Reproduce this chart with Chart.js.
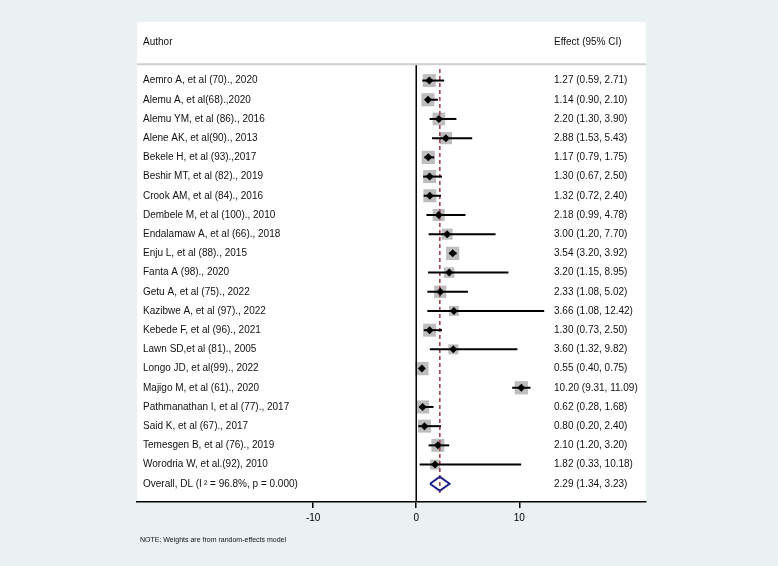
<!DOCTYPE html>
<html>
<head>
<meta charset="utf-8">
<script src="https://cdn.jsdelivr.net/npm/chart.js@4/dist/chart.umd.min.js"></script>
<style>
  html, body { margin: 0; padding: 0; background: #e9f1f3; }
  #wrap { width: 778px; height: 566px; }
</style>
</head>
<body>
<div id="wrap"><canvas id="forest" width="778" height="566"></canvas></div>
<script>
// Study data
const authors = [
    'Aemro A, et al (70)., 2020',
    'Alemu A, et al(68).,2020',
    'Alemu YM, et al (86)., 2016',
    'Alene AK, et al(90)., 2013',
    'Bekele H, et al (93).,2017',
    'Beshir MT, et al (82)., 2019',
    'Crook AM, et al (84)., 2016',
    'Dembele M, et al (100)., 2010',
    'Endalamaw A, et al (66)., 2018',
    'Enju L, et al (88)., 2015',
    'Fanta A (98)., 2020',
    'Getu A, et al (75)., 2022',
    'Kazibwe A, et al (97)., 2022',
    'Kebede F, et al (96)., 2021',
    'Lawn SD,et al (81)., 2005',
    'Longo JD, et al(99)., 2022',
    'Majigo M, et al (61)., 2020',
    'Pathmanathan I, et al (77)., 2017',
    'Said K, et al (67)., 2017',
    'Temesgen B, et al (76)., 2019',
    'Worodria W, et al.(92), 2010'
];
const effects = [1.27, 1.14, 2.20, 2.88, 1.17, 1.30, 1.32, 2.18, 3.00, 3.54, 3.20, 2.33, 3.66, 1.30, 3.60, 0.55, 10.20, 0.62, 0.80, 2.10, 1.82];
const lower   = [0.59, 0.90, 1.30, 1.53, 0.79, 0.67, 0.72, 0.99, 1.20, 3.20, 1.15, 1.08, 1.08, 0.73, 1.32, 0.40, 9.31, 0.28, 0.20, 1.20, 0.33];
const upper   = [2.71, 2.10, 3.90, 5.43, 1.75, 2.50, 2.40, 4.78, 7.70, 3.92, 8.95, 5.02, 12.42, 2.50, 9.82, 0.75, 11.09, 1.68, 2.40, 3.20, 10.18];
// approximate random-effects weights (%)
const weights = [5.0, 5.1, 4.8, 4.4, 5.2, 5.0, 5.0, 4.4, 3.6, 5.2, 3.3, 4.5, 2.9, 5.0, 3.0, 5.3, 5.2, 5.1, 5.0, 5.0, 2.9];

const overallLabel = 'Overall, DL (I\u2009\u00B2 = 96.8%, p = 0.000)';
const overallEst = 2.29;
const overallLow = 1.34;
const overallHigh = 3.23;

const xTicks = [-10, 0, 10];
const headerLeft = 'Author';
const headerRight = 'Effect (95% CI)';
const noteText = 'NOTE: Weights are from random-effects model';

// layout helpers
const X_MIN = -27.1, X_MAX = 22.3;
const Y_MIN = -3.05, Y_MAX = 21.95;
const overallRow = authors.length;
const sepRow = -0.85;

function fmt(e, l, u) {
    return e.toFixed(2) + ' (' + l.toFixed(2) + ', ' + u.toFixed(2) + ')';
}

Chart.defaults.font.family = '"Liberation Sans", Arial, Helvetica, sans-serif';
Chart.defaults.color = '#000';

// CI lines, one small dataset per study
const ciSets = effects.map((e, i) => ({
    type: 'line',
    data: [{ x: lower[i], y: i }, { x: upper[i], y: i }],
    borderColor: '#000',
    borderWidth: 2,
    pointRadius: 0,
    order: 3
}));

const textPlugin = {
    id: 'forestText',
    beforeDraw(chart) {
        const { ctx, chartArea } = chart;
        ctx.save();
        ctx.fillStyle = '#e9f1f3';
        ctx.fillRect(0, 0, chart.width, chart.height);
        ctx.fillStyle = '#ffffff';
        ctx.fillRect(chartArea.left, chartArea.top, chartArea.right - chartArea.left, chartArea.bottom - chartArea.top);
        ctx.restore();
    },
    afterDraw(chart) {
        const { ctx, chartArea } = chart;
        const y = chart.scales.y;
        const leftX = chartArea.left + 6;
        const rightX = chartArea.left + 417;
        ctx.save();
        ctx.fillStyle = '#111';
        ctx.textBaseline = 'middle';
        ctx.font = '10px "Liberation Sans", Arial, sans-serif';
        ctx.fillText(headerLeft, leftX, y.getPixelForValue(-2));
        ctx.fillText(headerRight, rightX, y.getPixelForValue(-2));
        authors.forEach((a, i) => {
            ctx.fillText(a, leftX, y.getPixelForValue(i));
            ctx.fillText(fmt(effects[i], lower[i], upper[i]), rightX, y.getPixelForValue(i));
        });
        ctx.fillText(overallLabel, leftX, y.getPixelForValue(overallRow));
        ctx.fillText(fmt(overallEst, overallLow, overallHigh), rightX, y.getPixelForValue(overallRow));
        ctx.font = '7px "Liberation Sans", Arial, sans-serif';
        ctx.fillText(noteText, chartArea.left + 3, chartArea.bottom + 38);
        ctx.restore();
    }
};

new Chart(document.getElementById('forest'), {
    data: {
        datasets: [
            // header separator
            {
                type: 'line',
                data: [{ x: X_MIN, y: sepRow }, { x: X_MAX, y: sepRow }],
                borderColor: '#cfcfcf',
                borderWidth: 2,
                pointRadius: 0,
                order: 2
            },
            // line of no effect
            {
                type: 'line',
                data: [{ x: 0, y: sepRow }, { x: 0, y: Y_MAX }],
                borderColor: '#000',
                borderWidth: 1.5,
                pointRadius: 0,
                order: 2
            },
            // overall estimate dashed line
            {
                type: 'line',
                data: [{ x: overallEst, y: -0.6 }, { x: overallEst, y: overallRow + 0.5 }],
                borderColor: '#a3454d',
                borderWidth: 1.6,
                borderDash: [4, 3],
                pointRadius: 0,
                order: 4
            },
            // weight boxes
            {
                type: 'scatter',
                data: effects.map((e, i) => ({ x: e, y: i })),
                pointStyle: 'rect',
                pointRadius: ctx => 5.8 * Math.sqrt(weights[ctx.dataIndex]) / Math.SQRT2,
                backgroundColor: '#bdbdbd',
                borderWidth: 0,
                order: 6
            },
            ...ciSets,
            // point estimates
            {
                type: 'scatter',
                data: effects.map((e, i) => ({ x: e, y: i })),
                pointStyle: 'rectRot',
                pointRadius: 4,
                backgroundColor: '#000',
                borderWidth: 0,
                order: 1
            },
            // overall diamond
            {
                type: 'line',
                data: [
                    { x: overallLow, y: overallRow },
                    { x: overallEst, y: overallRow - 0.37 },
                    { x: overallHigh, y: overallRow },
                    { x: overallEst, y: overallRow + 0.37 },
                    { x: overallLow, y: overallRow }
                ],
                borderColor: '#1b1f86',
                borderWidth: 2,
                pointRadius: 0,
                fill: false,
                order: 1
            }
        ]
    },
    options: {
        responsive: false,
        animation: false,
        devicePixelRatio: 1,
        layout: { padding: { left: 137, right: 132, top: 22, bottom: 38 } },
        plugins: { legend: { display: false }, tooltip: { enabled: false } },
        scales: {
            x: {
                type: 'linear',
                min: X_MIN,
                max: X_MAX,
                afterBuildTicks: axis => { axis.ticks = xTicks.map(v => ({ value: v })); },
                ticks: { font: { size: 10 }, color: '#000', padding: 4, autoSkip: false, maxRotation: 0 },
                grid: { drawOnChartArea: false, drawTicks: true, tickLength: 6, color: '#000', lineWidth: 1.5 },
                border: { display: true, color: '#000', width: 1.5 }
            },
            y: {
                type: 'linear',
                reverse: true,
                min: Y_MIN,
                max: Y_MAX,
                display: false
            }
        }
    },
    plugins: [textPlugin]
});
</script>
</body>
</html>
